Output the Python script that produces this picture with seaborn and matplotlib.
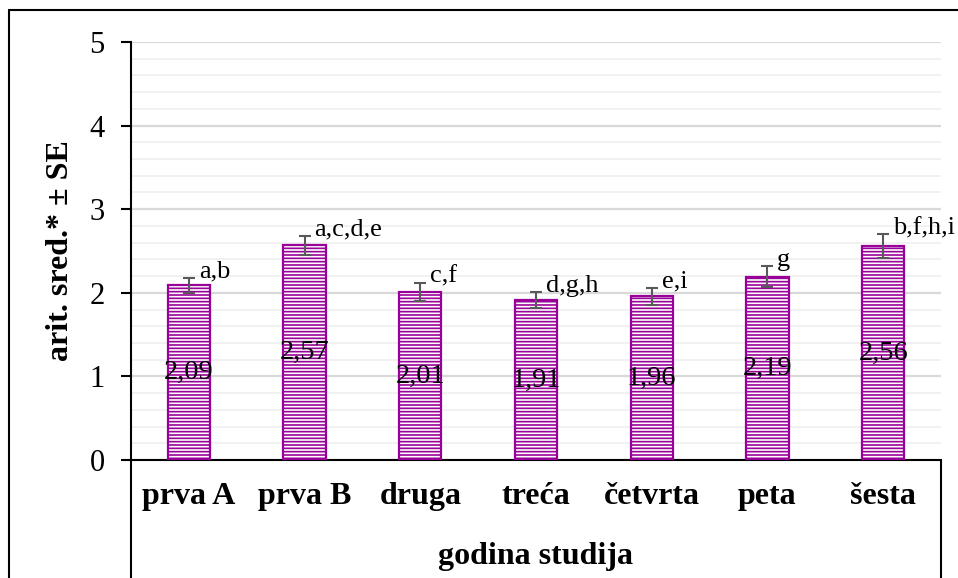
import matplotlib
matplotlib.use('Agg')
import matplotlib.pyplot as plt
import seaborn as sns
import pandas as pd
from matplotlib.lines import Line2D
from matplotlib.ticker import MultipleLocator

# podaci s grafikona
godine = ['prva A', 'prva B', 'druga', 'treća', 'četvrta', 'peta', 'šesta']
sredine = [2.09, 2.57, 2.01, 1.91, 1.96, 2.19, 2.56]
se = [0.09, 0.115, 0.11, 0.095, 0.10, 0.125, 0.14]
slova = ['a,b', 'a,c,d,e', 'c,f', 'd,g,h', 'e,i', 'g', 'b,f,h,i']
oznake = ['2,09', '2,57', '2,01', '1,91', '1,96', '2,19', '2,56']

df = pd.DataFrame({'godina': godine, 'sredina': sredine})

sns.set_style('white')
plt.rcParams['font.family'] = ['Liberation Serif', 'DejaVu Serif']
plt.rcParams['hatch.linewidth'] = 1.2
for k in ['text.color', 'axes.labelcolor', 'xtick.color', 'ytick.color']:
    plt.rcParams[k] = 'black'

ljubicasta = '#990099'

fig = plt.figure(figsize=(9.58, 5.78), dpi=100)
ax = fig.add_axes([131 / 958, 1 - 460 / 578, (941 - 131) / 958, (460 - 42) / 578])

sns.barplot(data=df, x='godina', y='sredina', ax=ax, color='white',
            edgecolor=ljubicasta, linewidth=1.6, width=0.365,
            hatch='-----', errorbar=None, zorder=3)
for p in ax.patches:
    p.set_facecolor('white')
    p.set_edgecolor(ljubicasta)

x = range(len(godine))
ax.errorbar(x, sredine, yerr=se, fmt='none', ecolor='#595959',
            elinewidth=1.5, capsize=4, capthick=1.5, zorder=4)

for i in x:
    ax.text(i, sredine[i] / 2, oznake[i], ha='center', va='center',
            fontsize=20.5, color='black', zorder=5)
    ax.text(i + 0.085, sredine[i] + se[i], slova[i], ha='left',
            va='baseline', fontsize=19, color='black', zorder=5)

ax.set_ylim(0, 5)
ax.set_xlim(-0.5, len(godine) - 0.5)
ax.yaxis.set_major_locator(MultipleLocator(1))
ax.yaxis.set_minor_locator(MultipleLocator(0.2))
ax.grid(axis='y', which='major', color='#d9d9d9', linewidth=1.6, zorder=0)
ax.grid(axis='y', which='minor', color='#f0f0f0', linewidth=1.3, zorder=0)
ax.set_axisbelow(True)

for s in ['top', 'right']:
    ax.spines[s].set_visible(False)
for s in ['left', 'bottom']:
    ax.spines[s].set_color('black')
    ax.spines[s].set_linewidth(1.5)

ax.tick_params(axis='y', which='major', left=True, length=7, width=1.5,
               labelsize=22, pad=12, color='black', labelcolor='black')
ax.tick_params(axis='y', which='minor', left=False)
ax.tick_params(axis='x', bottom=False, pad=12, labelcolor='black')
for t in ax.get_xticklabels():
    t.set_fontsize(23)
    t.set_fontweight('bold')

ax.set_xlabel('godina studija', fontsize=23, fontweight='bold', labelpad=23,
              color='black')
ax.set_ylabel('arit. sred.* ± SE', fontsize=23, fontweight='bold', labelpad=10,
              color='black')

# okvir ispod osi (tablica kategorija)
for xx in [0, 1]:
    ax.add_line(Line2D([xx, xx], [0, -0.35], transform=ax.transAxes,
                       color='black', linewidth=1.5, clip_on=False))
# vanjski okvir
fig.add_artist(Line2D([9 / 958, 9 / 958], [0, 1 - 10 / 578], color='black', linewidth=1.5))
fig.add_artist(Line2D([9 / 958, 1], [1 - 10 / 578, 1 - 10 / 578], color='black', linewidth=1.5))

fig.savefig('out.png', dpi=100)
